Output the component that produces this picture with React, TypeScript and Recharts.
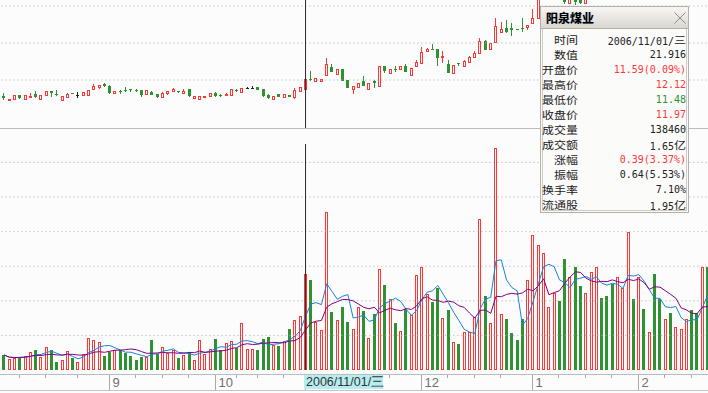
import React from "react";
import { ComposedChart, Bar, Line, XAxis, YAxis, ReferenceLine } from "recharts";

// ---- data ----
const opens = [
  11.31, 11.13, 11.17, 11.33, 11.17, 11.25, 11.37, 11.17, 11.33, 11.49,
  11.37, 11.13, 11.25, 11.41, 11.33, 11.33, 11.33, 11.57, 11.65, 11.77,
  11.69, 11.41, 11.49, 11.53, 11.56, 11.55, 11.53, 11.38, 11.46, 11.36,
  11.24, 11.43, 11.49, 11.49, 11.41, 11.56, 11.22, 11.16, 11.24, 11.28,
  11.41, 11.33, 11.32, 11.32, 11.53, 11.46, 11.62, 11.62, 11.66, 11.56,
  11.33, 11.18, 11.37, 11.26, 11.34, 11.26, 11.5, 11.59, 11.98, 11.88,
  11.88, 12.13, 12.46, 12.18, 12.38, 11.93, 11.56, 11.64, 11.89, 11.58,
  11.89, 11.7, 12.5, 12.22, 12.37, 12.36, 12.5, 12.12, 12.49, 12.62,
  13.08, 13.17, 13.17, 12.84, 12.56, 12.2, 12.6, 12.5, 12.66, 12.84,
  13.02, 13.49, 13.16, 13.46, 13.86, 14.02, 14.0, 13.97, 14.01, 14.06,
  14.22, 14.4, 15.2, 15.3, 15.4, 15.6, 15.35, 15.0, 15.2, 15.15,
  15.0, 15.25, 15.5, 15.9, 15.6, 15.5, 15.3, 15.5, 15.8, 16.3,
  16.0, 16.3, 16.1, 16.2, 15.8, 15.6, 15.7, 15.5, 15.6, 15.6,
  15.8, 15.6, 15.4, 15.8,
];
const highs = [
  11.41, 11.17, 11.33, 11.35, 11.35, 11.41, 11.49, 11.33, 11.49, 11.5,
  11.53, 11.29, 11.41, 11.43, 11.45, 11.45, 11.53, 11.77, 11.73, 11.81,
  11.73, 11.5, 11.53, 11.66, 11.57, 11.56, 11.54, 11.53, 11.49, 11.38,
  11.45, 11.51, 11.6, 11.5, 11.55, 11.57, 11.29, 11.28, 11.29, 11.41,
  11.45, 11.38, 11.4, 11.56, 11.56, 11.62, 11.64, 11.69, 11.67, 11.57,
  11.37, 11.3, 11.38, 11.36, 11.35, 11.6, 11.66, 12.12, 12.29, 12.0,
  11.96, 12.82, 12.57, 12.37, 12.39, 11.94, 11.68, 11.81, 12.08, 11.81,
  11.93, 12.5, 12.51, 12.38, 12.5, 12.48, 12.56, 12.42, 12.73, 13.24,
  13.21, 13.37, 13.18, 13.09, 12.73, 12.52, 12.61, 12.73, 12.89, 13.09,
  13.6, 13.53, 13.42, 14.42, 14.25, 14.33, 14.22, 13.98, 14.42, 14.13,
  14.76, 15.3, 15.5, 15.6, 15.7, 15.7, 15.4, 15.25, 15.3, 15.25,
  15.3, 15.65, 15.95, 15.95, 15.7, 15.6, 15.65, 15.85, 16.5, 16.4,
  16.35, 16.35, 16.25, 16.25, 15.85, 15.75, 15.75, 15.65, 15.75, 15.85,
  15.85, 15.65, 15.85, 15.9,
];
const lows = [
  11.15, 11.12, 11.13, 11.17, 11.16, 11.21, 11.21, 11.16, 11.29, 11.25,
  11.29, 11.09, 11.24, 11.36, 11.21, 11.32, 11.29, 11.56, 11.57, 11.65,
  11.37, 11.4, 11.37, 11.46, 11.44, 11.45, 11.26, 11.37, 11.33, 11.2,
  11.23, 11.34, 11.45, 11.41, 11.4, 11.25, 11.21, 11.15, 11.23, 11.27,
  11.25, 11.24, 11.31, 11.31, 11.45, 11.45, 11.6, 11.57, 11.53, 11.24,
  11.17, 11.17, 11.26, 11.25, 11.24, 11.16, 11.49, 11.48, 11.89, 11.87,
  11.87, 12.12, 12.25, 12.17, 11.9, 11.6, 11.38, 11.63, 11.7, 11.57,
  11.6, 11.67, 12.2, 12.21, 12.24, 12.35, 12.24, 12.09, 12.48, 12.61,
  13.07, 13.12, 12.48, 12.62, 12.21, 12.19, 12.48, 12.49, 12.65, 12.83,
  13.01, 13.12, 13.15, 13.45, 13.85, 13.8, 13.69, 13.92, 13.84, 13.93,
  14.21, 14.39, 15.15, 15.2, 15.35, 15.25, 14.98, 14.97, 14.95, 14.98,
  14.98, 15.2, 15.45, 15.55, 15.35, 15.25, 15.25, 15.45, 15.75, 15.95,
  15.95, 16.05, 16.05, 15.75, 15.55, 15.55, 15.45, 15.45, 15.55, 15.55,
  15.55, 15.45, 15.35, 15.55,
];
const closes = [
  11.23, 11.17, 11.33, 11.21, 11.33, 11.29, 11.25, 11.33, 11.49, 11.41,
  11.33, 11.29, 11.37, 11.37, 11.33, 11.45, 11.53, 11.69, 11.73, 11.69,
  11.41, 11.49, 11.45, 11.49, 11.53, 11.53, 11.33, 11.53, 11.34, 11.26,
  11.42, 11.49, 11.57, 11.47, 11.5, 11.29, 11.28, 11.28, 11.28, 11.41,
  11.29, 11.31, 11.39, 11.56, 11.49, 11.62, 11.62, 11.62, 11.53, 11.3,
  11.22, 11.3, 11.26, 11.36, 11.24, 11.53, 11.66, 11.97, 11.93, 12.0,
  11.96, 12.57, 12.26, 12.37, 11.9, 11.6, 11.68, 11.81, 11.7, 11.81,
  11.8, 12.5, 12.3, 12.38, 12.33, 12.48, 12.24, 12.42, 12.65, 13.04,
  13.16, 13.13, 12.82, 12.88, 12.22, 12.52, 12.56, 12.69, 12.86, 13.0,
  13.5, 13.13, 13.42, 14.09, 13.97, 13.86, 13.93, 13.93, 13.96, 14.13,
  14.4, 15.2, 15.4, 15.5, 15.6, 15.3, 15.05, 15.2, 15.05, 15.0,
  15.25, 15.6, 15.9, 15.6, 15.4, 15.3, 15.6, 15.8, 16.4, 16.0,
  16.3, 16.1, 16.2, 15.8, 15.6, 15.7, 15.5, 15.6, 15.7, 15.8,
  15.6, 15.5, 15.8, 15.6,
];
const volumes = [
  21700, 15400, 16900, 18800, 19800, 26500, 28400, 18800, 33700, 28400,
  11100, 14000, 27900, 16900, 11100, 23600, 46700, 43800, 40900, 19800,
  26000, 29400, 28400, 25000, 19800, 14000, 18800, 18800, 42900, 23100,
  32800, 25000, 28900, 16900, 21200, 26000, 14900, 42900, 22700, 29900,
  44300, 28400, 38600, 42400, 32400, 68500, 30000, 30900, 28400, 44100,
  47200, 35900, 34500, 41700, 59200, 71800, 77500, 138460, 129900, 69200,
  57300, 228200, 83600, 72600, 91100, 69400, 58800, 91600, 84800, 46700,
  80700, 145300, 122400, 103100, 68000, 55900, 88700, 79300, 136900, 148500,
  109400, 97900, 118100, 75000, 86300, 39900, 37100, 55400, 55400, 76000,
  218800, 107000, 67500, 321500, 80500, 73300, 53000, 43400, 73300, 129700,
  194800, 180300, 168700, 90700, 111800, 99800, 160100, 134000, 148900, 121000,
  111000, 142100, 149400, 103700, 107000, 124800, 134500, 118600, 199100, 102200,
  134500, 87800, 55400, 138400, 102200, 73300, 82000, 62600, 58800, 73300,
  86300, 82000, 148900, 148900,
];
const monthTickIdx = [20, 40, 57, 79, 100, 120];
const monthTickLabels = ["9", "10", "11", "12", "1", "2"];
const weekTickIdx = [3, 8, 14, 25, 30, 35, 44, 48, 53, 63, 68, 73, 84, 89, 94, 105, 110, 115, 125, 130];
const priceGrid = [11.93, 13.41, 14.89];
const volGrid = [50000, 100000, 150000, 200000, 250000, 300000];
const selectedIdx = 57;
const selectedDate = "2006/11/01/三";
const stockName = "阳泉煤业";
const tipLabels = ["时间", "数值", "开盘价", "最高价", "最低价", "收盘价", "成交量", "成交额", "涨幅", "振幅", "换手率", "流通股"];
const tipValues = ["2006/11/01/三", "21.916", "11.59(0.09%)", "12.12", "11.48", "11.97", "138460", "1.65亿", "0.39(3.37%)", "0.64(5.53%)", "7.10%", "1.95亿"];
const tipTones = ["n", "n", "up", "up", "down", "up", "n", "n", "up", "n", "n", "n"];

// ---- styles ----
const RED = "#ff3636";
const GREEN = "#2f9232";
const BLUE = "#1583d8";
const PURPLE = "#86007f";
const BG = "#fcfcfc";
const GRID = "#a9a9a9";
const CJK = '"Noto Sans CJK SC", sans-serif';
const MONO = '"DejaVu Sans Mono", monospace';

function movingAvg(arr: number[], n: number) {
  return arr.map((_, i) => {
    const s = Math.max(0, i - n + 1);
    const w = arr.slice(s, i + 1);
    return w.reduce((a, b) => a + b, 0) / w.length;
  });
}
const ma5 = movingAvg(volumes, 5);
const ma10 = movingAvg(volumes, 10);

const data = opens.map((o, i) => ({
  i,
  o,
  h: highs[i],
  l: lows[i],
  c: closes[i],
  v: volumes[i],
  ma5: ma5[i],
  ma10: ma10[i],
}));

const Candle = (props: any) => {
  const { x, y, width, height, payload } = props;
  if (x == null || !payload) return null;
  const top = Math.min(y, y + height);
  const hh = Math.abs(height);
  const { o, h, l, c } = payload;
  const k = h - l > 0 ? hh / (h - l) : 0;
  const yo = top + (h - o) * k;
  const yc = top + (h - c) * k;
  const left = Math.round(x + width / 2 - 1.5);
  const wx = left + 1.5;
  const bt = Math.round(Math.min(yo, yc));
  const bb = Math.round(Math.max(yo, yc));
  const yh = Math.round(top);
  const yl = Math.round(top + hh);
  if (c > o) {
    const bh = Math.max(1, bb - bt);
    return (
      <g shapeRendering="crispEdges">
        {yh < bt && <line x1={wx} x2={wx} y1={yh} y2={bt} stroke={RED} />}
        {yl > bt + bh && <line x1={wx} x2={wx} y1={bt + bh} y2={yl} stroke={RED} />}
        <rect x={left + 0.5} y={bt + 0.5} width={2} height={bh} fill={BG} stroke={RED} />
      </g>
    );
  }
  if (c < o) {
    return (
      <g shapeRendering="crispEdges">
        <line x1={wx} x2={wx} y1={yh} y2={Math.max(yl, yh + 1)} stroke={GREEN} />
        <rect x={left} y={bt} width={3} height={Math.max(1, bb - bt)} fill={GREEN} />
      </g>
    );
  }
  return (
    <g shapeRendering="crispEdges">
      <line x1={wx} x2={wx} y1={yh} y2={Math.max(yl, yh + 1)} stroke="#222" />
      <line x1={left} x2={left + 3} y1={bt + 0.5} y2={bt + 0.5} stroke="#222" />
    </g>
  );
};

const VolBar = (props: any) => {
  const { x, y, width, height, payload } = props;
  if (x == null || !payload) return null;
  const left = Math.round(x + width / 2 - 1.5);
  const t = Math.round(y);
  const b = Math.round(y + height);
  if (payload.c >= payload.o) {
    return (
      <rect x={left + 0.5} y={t + 0.5} width={2} height={Math.max(1, b - t - 1)} fill="none" stroke={RED} shapeRendering="crispEdges" />
    );
  }
  return <rect x={left} y={t} width={3} height={Math.max(1, b - t)} fill={GREEN} shapeRendering="crispEdges" />;
};

const allTicks = [...weekTickIdx, ...monthTickIdx].sort((a, b) => a - b);

const AxisTick = (props: any) => {
  const { x, y, payload } = props;
  const idx = payload.value;
  const m = monthTickIdx.indexOf(idx);
  const px = Math.round(x) - 0.5;
  if (m >= 0) {
    // the month label under the selected day is covered by the date box
    const showLabel = idx !== selectedIdx;
    return (
      <g>
        <line x1={px} x2={px} y1={y + 4} y2={y + 20} stroke="#a8a8a8" shapeRendering="crispEdges" />
        {showLabel && (
          <text x={px + 3} y={y + 17} fontSize={13} fill="#707070" fontFamily='"Liberation Sans", sans-serif'>
            {monthTickLabels[m]}
          </text>
        )}
      </g>
    );
  }
  return <line x1={px} x2={px} y1={y + 4} y2={y + 8} stroke="#a8a8a8" shapeRendering="crispEdges" />;
};

const MARGIN_L = 1.355;
const MARGIN_R = 1.745;

const squash: React.CSSProperties = {
  display: "inline-block",
  transform: "scaleY(0.85)",
  transformOrigin: "center center",
};

function ValueText({ s }: { s: string }) {
  return (
    <>
      {Array.from(s).map((ch, k) =>
        ch.charCodeAt(0) > 255 ? (
          <span key={k} style={{ ...squash, fontFamily: CJK, fontSize: 12 }}>{ch}</span>
        ) : (
          <span key={k}>{ch}</span>
        )
      )}
    </>
  );
}

function InfoBox() {
  const toneColor = (t: string) => (t === "up" ? RED : t === "down" ? GREEN : "#222");
  return (
    <div
      style={{
        position: "absolute",
        left: 540,
        top: 6,
        width: 149,
        height: 207,
        boxSizing: "border-box",
        border: "1px solid #b4b0a8",
        background: "#fbfbfa",
        fontFamily: CJK,
      }}
    >
      <div
        style={{
          position: "absolute",
          left: 0,
          top: 0,
          right: 0,
          height: 21,
          background: "linear-gradient(#f8f7f4, #dad7d0)",
          borderBottom: "1px solid #b4b0a8",
        }}
      >
        <span
          style={{
            position: "absolute",
            left: 5,
            top: 3,
            fontSize: 12,
            lineHeight: "15px",
            fontWeight: 700,
            color: "#000",
            textShadow: "0 0 1px #7a8aa0",
          }}
        >
          {stockName}
        </span>
        <svg style={{ position: "absolute", left: 133, top: 5 }} width={12} height={12}>
          <path d="M0.5 0.5 L11.5 11.5 M11.5 0.5 L0.5 11.5" stroke="#8c8c8c" strokeWidth={1} />
        </svg>
      </div>
      <div
        style={{
          position: "absolute",
          left: 1,
          top: 22,
          right: 1,
          bottom: 1,
          borderLeft: "1px solid #cfcbc4",
          borderRight: "1px solid #cfcbc4",
          borderBottom: "1px solid #cfcbc4",
        }}
      />
      {tipLabels.map((lab, r) => (
        <React.Fragment key={lab}>
          <div
            style={{
              position: "absolute",
              left: 0,
              width: 37,
              top: 24.5 + r * 15,
              height: 15,
              lineHeight: "15px",
              fontSize: 12,
              textAlign: "right",
              color: "#1a1a1a",
              whiteSpace: "nowrap",
            }}
          >
            <span style={squash}>{lab}</span>
          </div>
          <div
            style={{
              position: "absolute",
              right: 2,
              top: 24.5 + r * 15,
              height: 15,
              lineHeight: "15px",
              fontSize: 10,
              fontFamily: MONO,
              textAlign: "right",
              color: toneColor(tipTones[r]),
              whiteSpace: "nowrap",
            }}
          >
            <ValueText s={tipValues[r]} />
          </div>
        </React.Fragment>
      ))}
    </div>
  );
}

export default function App() {
  return (
    <div
      style={{
        position: "fixed",
        left: 0,
        top: 0,
        width: 708,
        height: 393,
        overflow: "hidden",
        background: BG,
      }}
    >
      {/* price panel */}
      <div style={{ position: "absolute", left: 0, top: 0 }}>
        <ComposedChart
          width={712}
          height={128}
          data={data}
          margin={{ top: 0, right: MARGIN_R, left: MARGIN_L, bottom: 0 }}
          barCategoryGap={0}
        >
          <XAxis dataKey="i" hide />
          <YAxis hide domain={[10.01, 15.13]} allowDataOverflow />
          {priceGrid.map((v) => (
            <ReferenceLine key={v} y={v} stroke={GRID} strokeDasharray="1 3" />
          ))}
          <Bar dataKey={(d: any) => [d.l, d.h]} barSize={3} shape={<Candle />} isAnimationActive={false} />
          <ReferenceLine x={selectedIdx} stroke="#2a2a2a" />
        </ComposedChart>
      </div>
      <div style={{ position: "absolute", left: 0, top: 128, width: 708, height: 1, background: "#bdbdbd" }} />

      {/* volume panel */}
      <div style={{ position: "absolute", left: 0, top: 128 }}>
        <ComposedChart
          width={712}
          height={265}
          data={data}
          margin={{ top: 16, right: MARGIN_R, left: MARGIN_L, bottom: 0 }}
          barCategoryGap={0}
        >
          <XAxis
            dataKey="i"
            height={23}
            axisLine={false}
            tickLine={false}
            tickSize={0}
            tickMargin={0}
            ticks={allTicks}
            interval={0}
            tick={<AxisTick />}
          />
          <YAxis hide domain={[0, 326600]} allowDataOverflow />
          {volGrid.map((v) => (
            <ReferenceLine key={v} y={v} stroke={GRID} strokeDasharray="1 3" />
          ))}
          <Bar dataKey="v" barSize={3} shape={<VolBar />} isAnimationActive={false} />
          <Line dataKey="ma5" stroke={BLUE} strokeWidth={1} dot={false} activeDot={false} isAnimationActive={false} />
          <Line dataKey="ma10" stroke={PURPLE} strokeWidth={1} dot={false} activeDot={false} isAnimationActive={false} />
          <ReferenceLine x={selectedIdx} stroke="#2a2a2a" />
        </ComposedChart>
      </div>
      <div style={{ position: "absolute", left: 0, top: 374, width: 708, height: 1, background: "#bdbdbd" }} />
      <div style={{ position: "absolute", left: 0, top: 390, width: 708, height: 1, background: "#c4c4c4" }} />

      {/* selected date label */}
      <div
        style={{
          position: "absolute",
          left: 304,
          top: 375,
          width: 79,
          height: 14,
          background: "#b6eef0",
          color: "#333",
          fontFamily: '"Liberation Sans", sans-serif',
          fontSize: 12.5,
          lineHeight: "14px",
          paddingLeft: 2,
          boxSizing: "border-box",
          whiteSpace: "nowrap",
        }}
      >
        {selectedDate}
      </div>

      <InfoBox />
    </div>
  );
}
